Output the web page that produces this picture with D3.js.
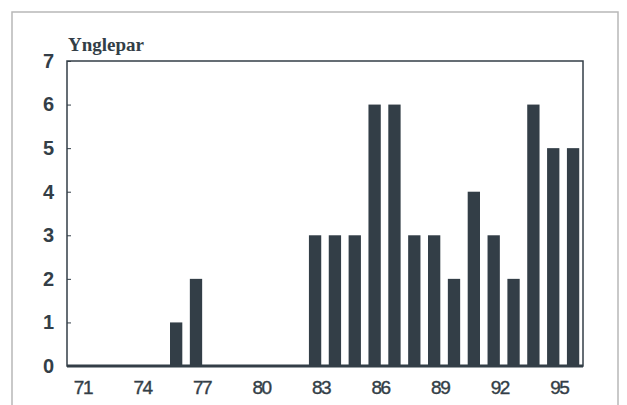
<!DOCTYPE html>
<html>
<head>
<meta charset="utf-8">
<script src="https://cdn.jsdelivr.net/npm/d3@7"></script>
<style>
  body { margin: 0; background: #fff; }
  svg { display: block; }
</style>
</head>
<body>
<svg id="chart" width="627" height="405"></svg>
<script>
// breeding pairs per year
const years = d3.range(71, 97);
const pairs = [0, 0, 0, 0, 0, 1, 2, 0, 0, 0, 0, 0, 3, 3, 3, 6, 6, 3, 3, 2, 4, 3, 2, 6, 5, 5];
const xTickYears = [71, 74, 77, 80, 83, 86, 89, 92, 95];
const yTicks = [0, 1, 2, 3, 4, 5, 6, 7];

const svg = d3.select('#chart');
const ink = '#333e47';

// plot area
const plotLeft = 67, plotRight = 583, plotTop = 61, plotBottom = 366;

const xScale = d3.scaleBand()
    .domain(years)
    .range([plotLeft, plotRight])
    .paddingInner(0.38)
    .paddingOuter(0.19);

const yScale = d3.scaleLinear()
    .domain([0, 7])
    .range([plotBottom, plotTop]);

// outer scanned frame
svg.append('path')
    .attr('d', 'M12,420 L12,12 L618,12 L618,420')
    .attr('fill', 'none')
    .attr('stroke', '#b8b8b8')
    .attr('stroke-width', 1.5);

// bars
svg.selectAll('.bar')
    .data(years)
    .enter()
    .append('rect')
    .attr('class', 'bar')
    .attr('x', d => xScale(d))
    .attr('width', xScale.bandwidth())
    .attr('y', (d, i) => yScale(pairs[i]))
    .attr('height', (d, i) => plotBottom - yScale(pairs[i]))
    .attr('fill', ink);

// plot frame
svg.append('rect')
    .attr('x', plotLeft)
    .attr('y', plotTop)
    .attr('width', plotRight - plotLeft)
    .attr('height', plotBottom - plotTop)
    .attr('fill', 'none')
    .attr('stroke', ink)
    .attr('stroke-width', 1.5);

svg.append('line')
    .attr('x1', plotLeft).attr('x2', plotRight)
    .attr('y1', plotBottom).attr('y2', plotBottom)
    .attr('stroke', ink)
    .attr('stroke-width', 3);

// y axis, ticks pointing inward
const yAxis = d3.axisLeft(yScale)
    .tickValues(yTicks)
    .tickFormat(d3.format('d'))
    .tickSize(-4)
    .tickPadding(13);

const yG = svg.append('g')
    .attr('transform', 'translate(' + plotLeft + ',0)')
    .call(yAxis);
yG.select('.domain').remove();
yG.selectAll('line').attr('stroke', ink);
yG.selectAll('text')
    .attr('fill', ink)
    .style('font-family', 'Liberation Sans, Arial, sans-serif')
    .style('font-size', '20px')
    .style('font-weight', 'bold');

// x axis labels
const xAxis = d3.axisBottom(xScale)
    .tickValues(xTickYears)
    .tickSize(0)
    .tickPadding(15);

const xG = svg.append('g')
    .attr('transform', 'translate(6,' + plotBottom + ')')
    .call(xAxis);
xG.select('.domain').remove();
xG.selectAll('text')
    .attr('fill', ink)
    .attr('stroke', ink)
    .attr('stroke-width', 0.4)
    .style('font-family', 'Liberation Sans, Arial, sans-serif')
    .style('font-size', '19px')
    .style('letter-spacing', '-1.5px');

// axis title
svg.append('text')
    .attr('x', 68)
    .attr('y', 51)
    .attr('fill', ink)
    .style('font-family', 'Liberation Serif, Times New Roman, serif')
    .style('font-size', '19px')
    .style('font-weight', 'bold')
    .text('Ynglepar');
</script>
</body>
</html>
